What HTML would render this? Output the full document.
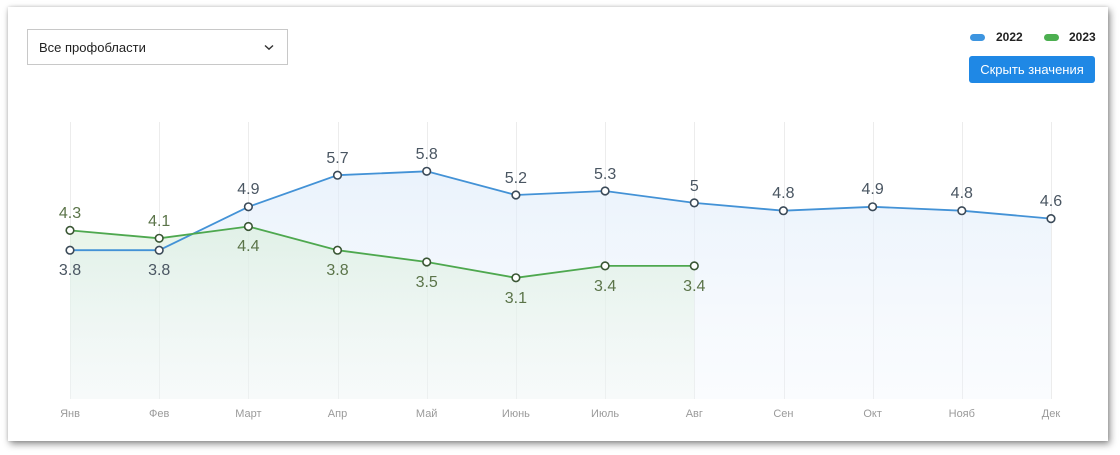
<!DOCTYPE html>
<html><head><meta charset="utf-8"><style>
html,body{margin:0;padding:0;background:#fff;width:1120px;height:455px;overflow:hidden;font-family:"Liberation Sans",Arial,sans-serif;}
.card{position:absolute;left:8px;top:7px;width:1100px;height:434px;background:#fff;box-shadow:2px 3px 7px rgba(0,0,0,0.45),0 0 3px rgba(0,0,0,0.15);}
.sel{position:absolute;left:27px;top:29px;width:259px;height:34px;border:1px solid #c8c8c8;background:#fff;box-sizing:content-box;}
.sel span{position:absolute;left:11px;top:10px;font-size:13px;color:#222;}
.sel svg{position:absolute;left:236px;top:14px;}
.leg{position:absolute;top:30px;font-size:12px;font-weight:bold;color:#222;}
.pill{position:absolute;width:15px;height:7px;border-radius:4px;top:34px;}
.btn{position:absolute;left:969px;top:56px;width:126px;height:27px;background:#1f88e5;border-radius:3px;color:#fff;font-size:13px;text-align:center;line-height:27px;}
svg.chart{position:absolute;left:0;top:0;}
</style></head><body>
<div class="card"></div>
<div class="sel"><span>Все профобласти</span><svg width="10" height="7" viewBox="0 0 10 7"><path d="M1 1.5 L5 5.2 L9 1.5" fill="none" stroke="#333" stroke-width="1.4"/></svg></div>
<div class="pill" style="left:970px;background:#3d95e0"></div>
<div class="leg" style="left:996px">2022</div>
<div class="pill" style="left:1044px;background:#4caf50"></div>
<div class="leg" style="left:1069px">2023</div>
<div class="btn">Скрыть значения</div>
<svg class="chart" width="1120" height="455" viewBox="0 0 1120 455" font-family="Liberation Sans, Arial, sans-serif">
<defs>
<linearGradient id="gb" x1="0" y1="0" x2="0" y2="1"><stop offset="0" stop-color="#dceafa" stop-opacity="0.6"/><stop offset="1" stop-color="#eef4fb" stop-opacity="0.3"/></linearGradient>
<linearGradient id="gg" x1="0" y1="0" x2="0" y2="1"><stop offset="0" stop-color="#d9eedb" stop-opacity="0.65"/><stop offset="1" stop-color="#eef6ef" stop-opacity="0.25"/></linearGradient>
</defs>
<g transform="translate(0,1)">
<g stroke="#ececec" stroke-width="1">
<line x1="70.5" y1="121" x2="70.5" y2="398"/><line x1="159.5" y1="121" x2="159.5" y2="398"/><line x1="248.5" y1="121" x2="248.5" y2="398"/><line x1="338.5" y1="121" x2="338.5" y2="398"/><line x1="427.5" y1="121" x2="427.5" y2="398"/><line x1="516.5" y1="121" x2="516.5" y2="398"/><line x1="605.5" y1="121" x2="605.5" y2="398"/><line x1="694.5" y1="121" x2="694.5" y2="398"/><line x1="784.5" y1="121" x2="784.5" y2="398"/><line x1="873.5" y1="121" x2="873.5" y2="398"/><line x1="962.5" y1="121" x2="962.5" y2="398"/><line x1="1051.5" y1="121" x2="1051.5" y2="398"/>
</g>
<path d="M70,249.2 L159.2,249.2 L248.4,205.8 L337.5,174.2 L426.7,170.3 L515.9,194 L605.1,190 L694.3,201.9 L783.4,209.7 L872.6,205.8 L961.8,209.7 L1051,217.6 L1051,398 L70,398 Z" fill="url(#gb)"/>
<path d="M70,229.4 L159.2,237.3 L248.4,225.5 L337.5,249.2 L426.7,261 L515.9,276.8 L605.1,264.9 L694.3,264.9 L694.3,398 L70,398 Z" fill="url(#gg)"/>
<polyline points="70,249.2 159.2,249.2 248.4,205.8 337.5,174.2 426.7,170.3 515.9,194 605.1,190 694.3,201.9 783.4,209.7 872.6,205.8 961.8,209.7 1051,217.6" fill="none" stroke="#4392d6" stroke-width="1.8"/>
<polyline points="70,229.4 159.2,237.3 248.4,225.5 337.5,249.2 426.7,261 515.9,276.8 605.1,264.9 694.3,264.9" fill="none" stroke="#4ea84f" stroke-width="1.8"/>
<g fill="#fff" stroke="#3b4a58" stroke-width="1.6">
<circle cx="70" cy="249.2" r="3.8"/><circle cx="159.2" cy="249.2" r="3.8"/><circle cx="248.4" cy="205.8" r="3.8"/><circle cx="337.5" cy="174.2" r="3.8"/><circle cx="426.7" cy="170.3" r="3.8"/><circle cx="515.9" cy="194" r="3.8"/><circle cx="605.1" cy="190" r="3.8"/><circle cx="694.3" cy="201.9" r="3.8"/><circle cx="783.4" cy="209.7" r="3.8"/><circle cx="872.6" cy="205.8" r="3.8"/><circle cx="961.8" cy="209.7" r="3.8"/><circle cx="1051" cy="217.6" r="3.8"/>
</g>
<g fill="#fff" stroke="#3a5634" stroke-width="1.6">
<circle cx="70" cy="229.4" r="3.8"/><circle cx="159.2" cy="237.3" r="3.8"/><circle cx="248.4" cy="225.5" r="3.8"/><circle cx="337.5" cy="249.2" r="3.8"/><circle cx="426.7" cy="261" r="3.8"/><circle cx="515.9" cy="276.8" r="3.8"/><circle cx="605.1" cy="264.9" r="3.8"/><circle cx="694.3" cy="264.9" r="3.8"/>
</g>
<g font-size="16" fill="#4a5662" text-anchor="middle">
<text x="70" y="274">3.8</text><text x="159.2" y="274">3.8</text><text x="248.4" y="193">4.9</text><text x="337.5" y="162">5.7</text><text x="426.7" y="158">5.8</text><text x="515.9" y="182">5.2</text><text x="605.1" y="178">5.3</text><text x="694.3" y="190">5</text><text x="783.4" y="197">4.8</text><text x="872.6" y="193">4.9</text><text x="961.8" y="197">4.8</text><text x="1051" y="205">4.6</text>
</g>
<g font-size="16" fill="#5b7449" text-anchor="middle">
<text x="70" y="217">4.3</text><text x="159.2" y="225">4.1</text><text x="248.4" y="250">4.4</text><text x="337.5" y="274">3.8</text><text x="426.7" y="286">3.5</text><text x="515.9" y="302">3.1</text><text x="605.1" y="290">3.4</text><text x="694.3" y="290">3.4</text>
</g>
</g>
<g font-size="11" fill="#9a9a9a" text-anchor="middle">
<text x="70" y="417">Янв</text><text x="159.2" y="417">Фев</text><text x="248.4" y="417">Март</text><text x="337.5" y="417">Апр</text><text x="426.7" y="417">Май</text><text x="515.9" y="417">Июнь</text><text x="605.1" y="417">Июль</text><text x="694.3" y="417">Авг</text><text x="783.4" y="417">Сен</text><text x="872.6" y="417">Окт</text><text x="961.8" y="417">Нояб</text><text x="1051" y="417">Дек</text>
</g>
</svg>
</body></html>
